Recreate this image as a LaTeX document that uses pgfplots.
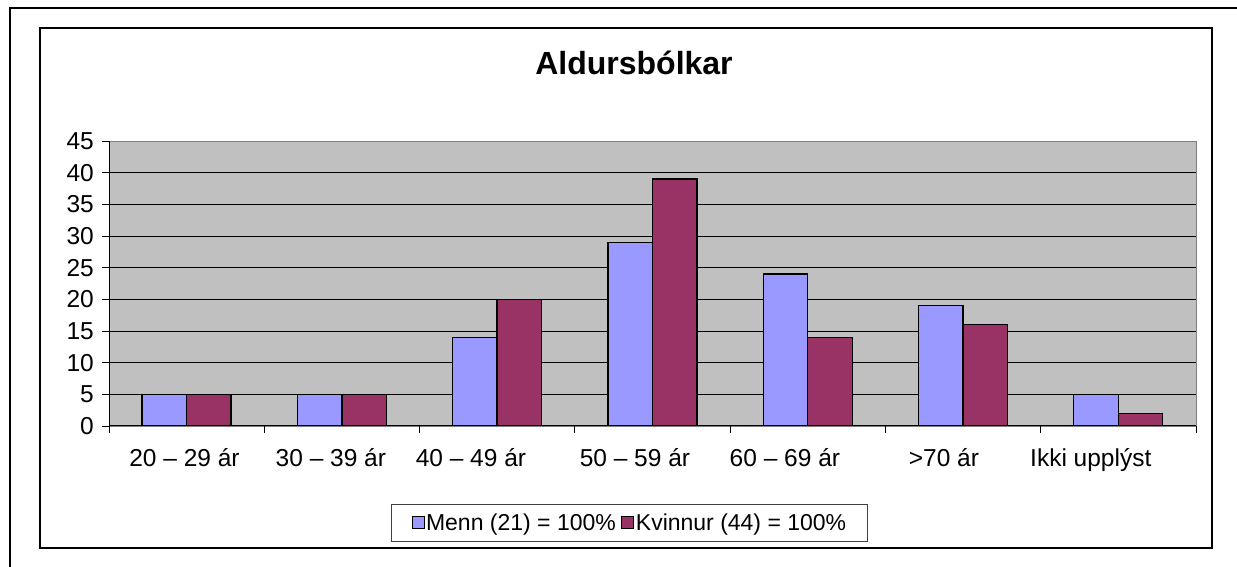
\documentclass[border=0pt]{standalone}
\usepackage{pgfplots}
\pgfplotsset{compat=1.18}
\usepackage{fontspec}
\setmainfont{Liberation Sans}
\definecolor{menn}{HTML}{9999FF}
\definecolor{kvinnur}{HTML}{993366}
\definecolor{plotbg}{HTML}{C0C0C0}
\pgfplotsset{sqlegend/.style={legend image code/.code={\draw[##1, line width=1pt] (0pt,-6pt) rectangle (12pt,6pt);}}}

\begin{document}
\begin{tikzpicture}
\useasboundingbox (0pt,0pt) rectangle (1237pt,567pt);
% outer and inner frames
\draw[line width=2.2pt] (10pt,-5pt) -- (10pt,559pt) -- (1245pt,559pt);
\draw[line width=1.3pt] (40pt,19pt) rectangle (1212pt,539pt);
\node[anchor=base, inner sep=0pt, font=\bfseries\fontsize{32}{36}\selectfont] at (634pt,492pt) {Aldursbólkar};
\begin{axis}[
  at={(109pt,141pt)}, anchor=south west,
  scale only axis,
  width=1087pt, height=285pt,
  xmin=-0.5, xmax=6.5,
  ymin=0, ymax=45,
  ybar=0pt, bar width=44.5pt,
  ytick={0,5,...,45},
  xtick={-0.014,0.929,1.831,2.887,3.853,4.877,5.823},
  xticklabels={20 – 29 ár, 30 – 39 ár, 40 – 49 ár, 50 – 59 ár, 60 – 69 ár, >70 ár, Ikki upplýst},
  x tick style={draw=none},
  extra x ticks={-0.5,0.5,...,6.5},
  extra x tick labels={},
  extra x tick style={x tick style={draw=black, line width=0.8pt}, grid=none},
  y tick style={draw=black, line width=0.8pt},
  major tick length=7pt,
  tick align=outside,
  tick pos=left,
  ymajorgrids,
  grid style={black, line width=0.8pt},
  axis background/.style={fill=plotbg},
  axis line style={draw=black!50, line width=0.8pt},
  tick label style={font=\fontsize{24.5}{28}\selectfont},
  /pgf/number format/assume math mode=true,
  yticklabel style={inner sep=1pt, xshift=-7pt},
  xticklabel style={anchor=base, yshift=-34pt},
  legend columns=2,
  legend style={at={(0.479,-0.3386)}, anchor=center, draw=black!75, line width=0.8pt,
    font=\fontsize{23}{27}\selectfont, inner xsep=20pt, inner ysep=8pt,
    nodes={inner sep=1.5pt},
    /tikz/every even column/.append style={column sep=4pt}},
]
\addplot[fill=menn, draw=black, line width=1.4pt, sqlegend]
  coordinates {(0,5) (1,5) (2,14) (3,29) (4,24) (5,19) (6,5)};
\addplot[fill=kvinnur, draw=black, line width=1.4pt, sqlegend]
  coordinates {(0,5) (1,5) (2,20) (3,39) (4,14) (5,16) (6,2)};
\legend{Menn (21) = 100\%, Kvinnur (44) = 100\%}
\draw[black, line width=1pt] (rel axis cs:0,1) -- (rel axis cs:0,0) -- (rel axis cs:1,0);
\end{axis}
\end{tikzpicture}
\end{document}
